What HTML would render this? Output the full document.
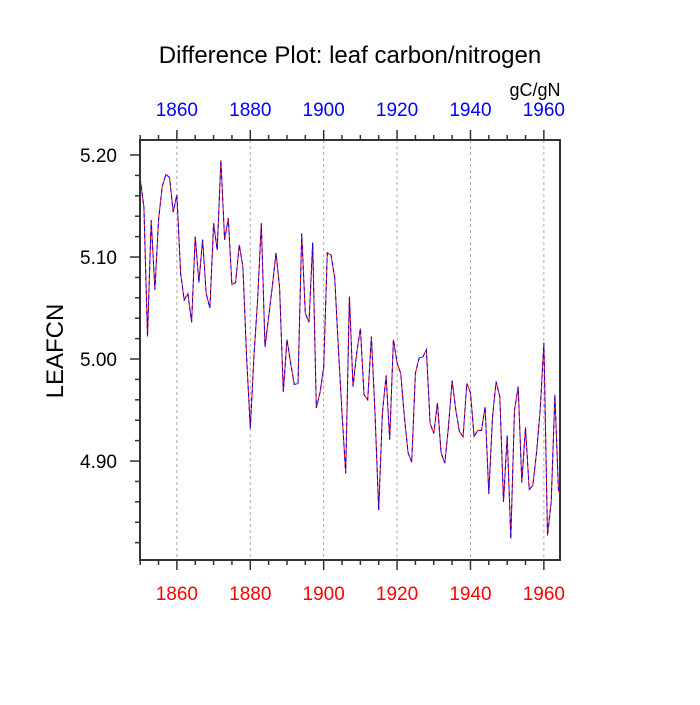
<!DOCTYPE html>
<html><head><meta charset="utf-8"><style>
html,body{margin:0;padding:0;background:#fff}
svg text{font-family:"Liberation Sans",sans-serif}
</style></head><body>
<svg id="chart" width="700" height="700" xmlns="http://www.w3.org/2000/svg">
<text x="350" y="63" text-anchor="middle" font-size="24">Difference Plot: leaf carbon/nitrogen</text>
<text x="535" y="96" text-anchor="middle" font-size="18">gC/gN</text>
<text transform="translate(63,351) rotate(-90)" text-anchor="middle" font-size="24">LEAFCN</text>
<g id="grid"></g>
<g id="series"></g>
<g id="axes"></g>
</svg>
<script>
const years = [];
for (let y = 1850; y <= 1964; y++) years.push(y);
const values = [5.177,5.149,5.022,5.136,5.068,5.136,5.169,5.181,5.178,5.144,5.161,5.084,5.058,5.064,5.036,5.120,5.075,5.117,5.064,5.050,5.133,5.107,5.195,5.117,5.138,5.073,5.075,5.112,5.090,5.002,4.932,5.002,5.058,5.133,5.012,5.041,5.071,5.104,5.070,4.968,5.019,4.996,4.975,4.976,5.123,5.045,5.036,5.114,4.952,4.967,4.992,5.104,5.102,5.080,5.012,4.947,4.888,5.061,4.973,5.006,5.030,4.965,4.960,5.022,4.947,4.852,4.947,4.984,4.921,5.019,4.996,4.986,4.943,4.908,4.899,4.986,5.001,5.002,5.009,4.937,4.927,4.957,4.908,4.898,4.933,4.979,4.950,4.929,4.924,4.976,4.967,4.924,4.930,4.930,4.953,4.868,4.943,4.978,4.963,4.860,4.925,4.824,4.950,4.973,4.879,4.933,4.872,4.876,4.908,4.950,5.016,4.827,4.860,4.965,4.870];
const xTicks = [1860,1880,1900,1920,1940,1960];
const yTicks = [4.90,5.00,5.10,5.20];
const yLabels = ["4.90","5.00","5.10","5.20"];

const L=140,R=560,T=140,B=560;
const X0=1849.95,X1=1964.4,Y0=4.803,Y1=5.2147;
function sx(v){return L+(v-X0)/(X1-X0)*(R-L);}
function sy(v){return B-(v-Y0)/(Y1-Y0)*(B-T);}
const NS="http://www.w3.org/2000/svg";
function mk(tag,attrs,parent){const e=document.createElementNS(NS,tag);for(const k in attrs)e.setAttribute(k,attrs[k]);parent.appendChild(e);return e;}
const grid=document.getElementById('grid'),ser=document.getElementById('series'),ax=document.getElementById('axes');

xTicks.forEach(t=>{
  const g=mk('line',{x1:sx(t),x2:sx(t),y1:T,y2:B,stroke:'#aaa','stroke-width':1,'stroke-dasharray':'3,3'},grid);
  
  
});

const pts=years.map((y,i)=>Math.min(sx(y),R).toFixed(1)+','+sy(values[i]).toFixed(1)).join(' ');
const red=mk('polyline',{points:pts,fill:'none',stroke:'#f00','stroke-width':1},ser);


const blue=mk('polyline',{points:pts,fill:'none',stroke:'#00f','stroke-width':1,'stroke-dasharray':'4,3'},ser);



const frame=mk('rect',{x:L,y:T,width:R-L,height:B-T,fill:'none',stroke:'#333','stroke-width':2},ax);



for(let y=1850;y<=1965;y+=5){
  const major=xTicks.includes(y);const len=major?10:5;
  if(sx(y)>R+0.5)continue;
  mk('line',{x1:sx(y),x2:sx(y),y1:T,y2:T-len,stroke:'#333','stroke-width':1.5},ax);
  mk('line',{x1:sx(y),x2:sx(y),y1:B,y2:B+len,stroke:'#333','stroke-width':1.5},ax);
}
xTicks.forEach(t=>{
  const a=mk('text',{x:sx(t),y:116,'text-anchor':'middle','font-size':19,fill:'#00f'},ax);
  a.textContent=t;
  
  
  const b=mk('text',{x:sx(t),y:600,'text-anchor':'middle','font-size':19,fill:'#f00'},ax);
  b.textContent=t;
  
  
});
for(let k=0;k<=20;k++){
  const v=4.82+k*0.02;if(v>Y1)break;
  const major=Math.abs((v*100)%10)<0.01||Math.abs((v*100)%10-10)<0.01;
  mk('line',{x1:L,x2:L-(major?10:5),y1:sy(v),y2:sy(v),stroke:'#333','stroke-width':1.5},ax);
}
yTicks.forEach((t,i)=>{
  const a=mk('text',{x:117,y:sy(t)+7,'text-anchor':'end','font-size':19},ax);
  a.textContent=yLabels[i];
  
  
});
</script>
</body></html>
